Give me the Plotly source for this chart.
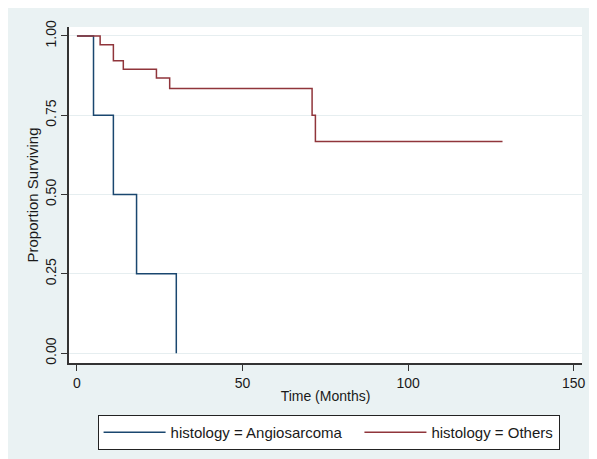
import plotly.graph_objects as go

# Kaplan-Meier step data
angio_time = [0, 5, 11, 18, 30]
angio_surv = [1.0, 0.75, 0.50, 0.25, 0.0]

others_time = [0, 7, 11, 14, 24, 28, 71, 72, 128.5]
others_surv = [1.0, 0.972, 0.922, 0.895, 0.867, 0.834, 0.75, 0.667, 0.667]

x_ticks = [0, 50, 100, 150]
y_ticks = [0.0, 0.25, 0.50, 0.75, 1.0]
y_tick_labels = ["0.00", "0.25", "0.50", "0.75", "1.00"]

BG = "#EAF2F3"
BLUE = "#1a476f"
RED = "#90353b"
FONT = "Liberation Sans, Arial, sans-serif"
NB = "\u00a0"

fig = go.Figure()
fig.add_trace(go.Scatter(x=angio_time, y=angio_surv, mode="lines", line_shape="hv",
                         line=dict(color=BLUE, width=1.5),
                         name="histology = Angiosarcoma" + NB * 3))
fig.add_trace(go.Scatter(x=others_time, y=others_surv, mode="lines", line_shape="hv",
                         line=dict(color=RED, width=1.5),
                         name="histology = Others"))

fig.update_layout(
    width=581, height=459,
    margin=dict(l=61, r=3, t=19, b=104),
    paper_bgcolor=BG,
    plot_bgcolor="white",
    font=dict(family=FONT, size=14, color="#1a1a1a"),
    showlegend=True,
    legend=dict(orientation="h", x=0.506, xanchor="center", y=-0.1548, yanchor="top",
                bgcolor="white", bordercolor="#222", borderwidth=1,
                font=dict(size=15), itemwidth=62),
    xaxis=dict(range=[-2.4, 152.5], tickvals=x_ticks, ticks="outside", ticklen=6,
               tickcolor="#333", showline=True, linecolor="#333", linewidth=1.5,
               showgrid=False, zeroline=False, ticklabeloverflow="allow",
               title=dict(text="Time (Months)", standoff=2, font=dict(size=14))),
    yaxis=dict(range=[-0.031, 1.028], tickvals=y_ticks, ticktext=y_tick_labels,
               tickangle=-90, ticks="outside", ticklen=6, tickcolor="#333",
               showline=True, linecolor="#333", linewidth=1.5,
               showgrid=True, gridcolor="#E6EEF0", gridwidth=1, zeroline=False,
               title=dict(text="Proportion Surviving", standoff=0, font=dict(size=15))),
)

fig.write_html("out.html", post_script="document.body.style.overflow='hidden';")
